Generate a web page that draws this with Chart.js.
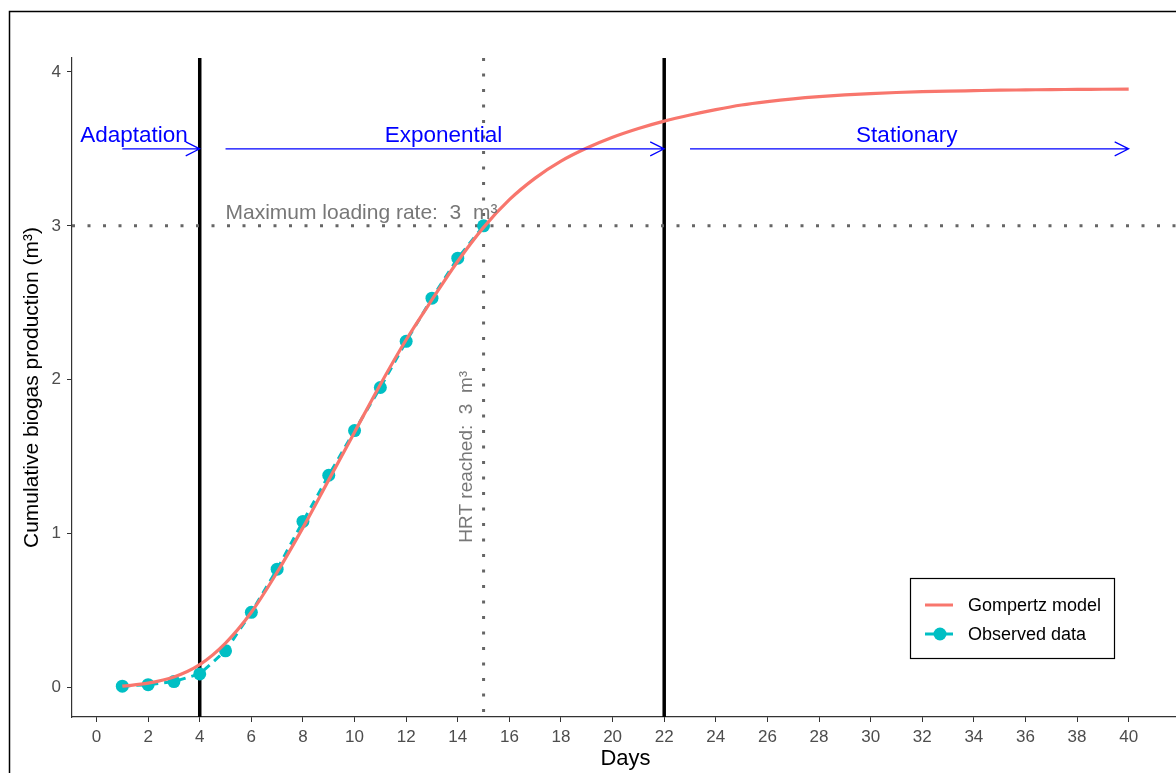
<!DOCTYPE html>
<html>
<head>
<meta charset="utf-8">
<script src="https://cdn.jsdelivr.net/npm/chart.js@4.4.1/dist/chart.umd.min.js"></script>
<style>
  html, body { margin: 0; padding: 0; background: #fff; overflow: hidden; }
</style>
</head>
<body>
<canvas id="biogasChart" width="1200" height="773"></canvas>
<script>
// observed cumulative biogas (m3), days 1-15
const obsDays = [1, 2, 3, 4, 5, 6, 7, 8, 9, 10, 11, 12, 13, 14, 15];
const observed = [0.01, 0.02, 0.04, 0.09, 0.24, 0.49, 0.77, 1.08, 1.38, 1.67, 1.95, 2.25, 2.53, 2.79, 3.00];

// fitted Gompertz curve, days 1-40
const modelDays = [1, 2, 3, 4, 5, 6, 7, 8, 9, 10, 11, 12, 13, 14, 15, 16, 17, 18, 19, 20,
                   21, 22, 23, 24, 25, 26, 27, 28, 29, 30, 31, 32, 33, 34, 35, 36, 37, 38, 39, 40];
const gompertz = [0.01, 0.03, 0.07, 0.15, 0.29, 0.49, 0.75, 1.04, 1.35, 1.66,
                  1.97, 2.26, 2.52, 2.77, 2.99, 3.17, 3.31, 3.42, 3.505, 3.575,
                  3.632, 3.68, 3.72, 3.755, 3.785, 3.807, 3.825, 3.839, 3.850, 3.859,
                  3.866, 3.871, 3.875, 3.878, 3.881, 3.883, 3.885, 3.886, 3.887, 3.888];

const xTicks = [0, 2, 4, 6, 8, 10, 12, 14, 16, 18, 20, 22, 24, 26, 28, 30, 32, 34, 36, 38, 40];
const yTicks = [0, 1, 2, 3, 4];

// growth phases
const phaseNames = ['Adaptation', 'Exponential', 'Stationary'];
const phaseStart = [1, 5, 23];
const phaseEnd = [4, 22, 40];
const phaseBounds = [4, 22];
const hrtDay = 15;
const maxLoad = 3;

const FONT = "'Liberation Sans', Arial, sans-serif";

const annotations = {
  id: 'annotations',
  beforeDatasetsDraw(chart) {
    const { ctx, chartArea: a, scales: { x, y } } = chart;
    ctx.save();
    // phase boundaries
    ctx.strokeStyle = '#000';
    ctx.lineWidth = 3.5;
    phaseBounds.forEach(d => {
      const px = x.getPixelForValue(d);
      ctx.beginPath();
      ctx.moveTo(px, a.top);
      ctx.lineTo(px, a.bottom);
      ctx.stroke();
    });
    // dotted reference lines
    ctx.strokeStyle = '#666';
    ctx.lineWidth = 3;
    ctx.setLineDash([3, 12.5]);
    const hx = x.getPixelForValue(hrtDay);
    ctx.beginPath();
    ctx.moveTo(hx, a.top);
    ctx.lineTo(hx, a.bottom);
    ctx.stroke();
    const my = y.getPixelForValue(maxLoad);
    ctx.beginPath();
    ctx.moveTo(a.left, my);
    ctx.lineTo(a.right, my);
    ctx.stroke();
    ctx.restore();
  },
  afterDatasetsDraw(chart) {
    const { ctx, scales: { x, y } } = chart;
    ctx.save();
    // phase arrows
    const ay = y.getPixelForValue(3.5);
    ctx.strokeStyle = '#0000ff';
    ctx.lineWidth = 1.2;
    phaseStart.forEach((s, i) => {
      const x0 = x.getPixelForValue(s), x1 = x.getPixelForValue(phaseEnd[i]);
      ctx.beginPath();
      ctx.moveTo(x0, ay);
      ctx.lineTo(x1, ay);
      ctx.moveTo(x1 - 14, ay - 7);
      ctx.lineTo(x1, ay);
      ctx.lineTo(x1 - 14, ay + 7);
      ctx.stroke();
    });
    // phase labels
    const labelX = [1.45, 13.45, 31.4];
    ctx.fillStyle = '#0000ff';
    ctx.font = '22.5px ' + FONT;
    ctx.textAlign = 'center';
    ctx.textBaseline = 'alphabetic';
    phaseNames.forEach((n, i) => {
      ctx.fillText(n, x.getPixelForValue(labelX[i]), ay - 7);
    });
    // reference labels
    ctx.fillStyle = '#777';
    ctx.font = '21px ' + FONT;
    ctx.textAlign = 'left';
    ctx.fillText('Maximum loading rate:  3  m³', x.getPixelForValue(5), y.getPixelForValue(maxLoad) - 7);
    ctx.save();
    ctx.translate(x.getPixelForValue(hrtDay) - 17, y.getPixelForValue(1.5));
    ctx.rotate(-Math.PI / 2);
    ctx.textAlign = 'center';
    ctx.textBaseline = 'middle';
    ctx.font = '19px ' + FONT;
    ctx.fillText('HRT reached:  3  m³', 0, 0);
    ctx.restore();

    // legend box
    ctx.strokeStyle = '#000';
    ctx.lineWidth = 1.2;
    ctx.strokeRect(910.5, 578.5, 204, 80);
    const rows = [605, 634];
    ctx.font = '18px ' + FONT;
    ctx.textAlign = 'left';
    ctx.textBaseline = 'middle';
    chart.data.datasets.forEach((ds, i) => {
      const ly = rows[i];
      ctx.strokeStyle = ds.borderColor;
      ctx.lineWidth = 3;
      ctx.beginPath();
      ctx.moveTo(925, ly);
      ctx.lineTo(953, ly);
      ctx.stroke();
      if (ds.pointRadius > 0) {
        ctx.fillStyle = ds.pointBackgroundColor;
        ctx.beginPath();
        ctx.arc(940, ly, 6.5, 0, Math.PI * 2);
        ctx.fill();
      }
      ctx.fillStyle = '#000';
      ctx.fillText(ds.label, 968, ly + 1);
    });

    // outer frame
    ctx.strokeStyle = '#000';
    ctx.lineWidth = 1.5;
    ctx.strokeRect(9.5, 11.5, 1300, 900);
    ctx.restore();
  }
};

new Chart(document.getElementById('biogasChart').getContext('2d'), {
  type: 'line',
  data: {
    datasets: [
      {
        label: 'Gompertz model',
        data: modelDays.map((d, i) => ({ x: d, y: gompertz[i] })),
        borderColor: '#F8766D',
        backgroundColor: '#F8766D',
        borderWidth: 3.2,
        pointRadius: 0,
        cubicInterpolationMode: 'monotone',
        fill: false
      },
      {
        label: 'Observed data',
        data: obsDays.map((d, i) => ({ x: d, y: observed[i] })),
        borderColor: '#00BFC4',
        backgroundColor: '#00BFC4',
        pointBackgroundColor: '#00BFC4',
        pointBorderWidth: 0,
        borderWidth: 3,
        borderDash: [8, 6],
        pointRadius: 6.5,
        tension: 0,
        fill: false
      }
    ]
  },
  options: {
    responsive: false,
    animation: false,
    layout: { padding: { left: 0, top: 58, right: 21, bottom: 0 } },
    plugins: {
      legend: { display: false },
      tooltip: { enabled: false }
    },
    scales: {
      x: {
        type: 'linear',
        min: -0.95,
        max: 41.95,
        afterBuildTicks: s => { s.ticks = xTicks.map(v => ({ value: v })); },
        afterFit: s => { s.height = 56; },
        grid: { drawOnChartArea: false, drawTicks: true, tickLength: 5, color: '#333', lineWidth: 1 },
        border: { display: true, color: '#333', width: 1.2 },
        ticks: { color: '#4d4d4d', font: { family: FONT, size: 17 }, padding: 5, maxRotation: 0, autoSkip: false },
        title: { display: true, text: 'Days', color: '#000', font: { family: FONT, size: 22 }, padding: { top: 0, bottom: 1 } }
      },
      y: {
        type: 'linear',
        min: -0.19,
        max: 4.09,
        afterBuildTicks: s => { s.ticks = yTicks.map(v => ({ value: v })); },
        afterFit: s => { s.width = 72; },
        grid: { drawOnChartArea: false, drawTicks: true, tickLength: 5, color: '#333', lineWidth: 1 },
        border: { display: true, color: '#333', width: 1.2 },
        ticks: { color: '#4d4d4d', font: { family: FONT, size: 17 }, padding: 6 },
        title: { display: true, text: 'Cumulative biogas production (m³)', color: '#000', font: { family: FONT, size: 21 }, padding: { top: 20, bottom: 0 } }
      }
    }
  },
  plugins: [annotations]
});
</script>
</body>
</html>
